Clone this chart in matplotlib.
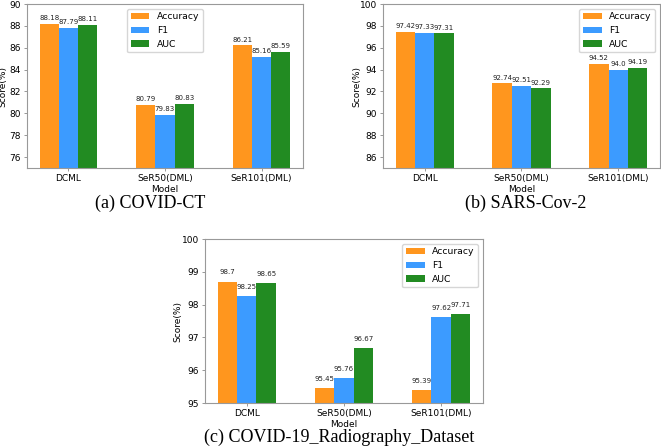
import numpy as np
import matplotlib
matplotlib.use("Agg")
import matplotlib.pyplot as plt

models = ["DCML", "SeR50(DML)", "SeR101(DML)"]
metrics = ["Accuracy", "F1", "AUC"]
colors = ["#FF961E", "#3C9BFF", "#228B22"]

# scores per dataset, rows = metric, cols = model
covid_ct = [[88.18, 80.79, 86.21],
            [87.79, 79.83, 85.16],
            [88.11, 80.83, 85.59]]
sars_cov2 = [[97.42, 92.74, 94.52],
             [97.33, 92.51, 94.0],
             [97.31, 92.29, 94.19]]
radiography = [[98.7, 95.45, 95.39],
                [98.25, 95.76, 97.62],
                [98.65, 96.67, 97.71]]

captions = ["(a) COVID-CT", "(b) SARS-Cov-2", "(c) COVID-19_Radiography_Dataset"]
ylims = [(75, 90), (85, 100), (95, 100)]
yticks = [np.arange(76, 91, 2), np.arange(86, 101, 2), np.arange(95, 101, 1)]

fig = plt.figure(figsize=(6.61, 4.48), dpi=100)
boxes = [[0.0408, 0.625, 0.4176, 0.366],
         [0.5794, 0.625, 0.419, 0.366],
         [0.3101, 0.1004, 0.4206, 0.366]]
caption_pos = [(150, 203), (526, 203), (339, 437)]
legend_locs = ["upper center", "upper right", "upper right"]
label_offsets = [2, 2, 4.5]
ylabel_x = [-0.07, -0.078, -0.083]

x = np.arange(len(models))
width = 0.2
for i, data in enumerate([covid_ct, sars_cov2, radiography]):
    ax = fig.add_axes(boxes[i])
    for j, name in enumerate(metrics):
        bars = ax.bar(x + (j - 1) * width, data[j], width, color=colors[j], label=name)
        for b, v in zip(bars, data[j]):
            ax.annotate(str(v), (b.get_x() + b.get_width() / 2, v),
                        xytext=(0, label_offsets[i]), textcoords="offset points",
                        ha="center", va="bottom", fontsize=5, color="#222222")
    ax.set_ylim(*ylims[i])
    ax.set_yticks(yticks[i])
    ax.set_xticks(x)
    ax.set_xticklabels(models)
    ax.tick_params(labelsize=6.5, length=2.5, width=0.6, color="#888888", pad=2)
    ax.set_xlabel("Model", fontsize=6.5, labelpad=1)
    ax.set_ylabel("Score(%)", fontsize=6.5)
    ax.yaxis.set_label_coords(ylabel_x[i], 0.5)
    for s in ax.spines.values():
        s.set_color("#999999")
        s.set_linewidth(0.8)
    ax.legend(loc=legend_locs[i], fontsize=6.7)
    cx, cy = caption_pos[i]
    fig.text(cx / 661, 1 - cy / 448, captions[i], ha="center", va="center",
             fontsize=13, family="Liberation Serif")

fig.savefig("out.png", dpi=100)
